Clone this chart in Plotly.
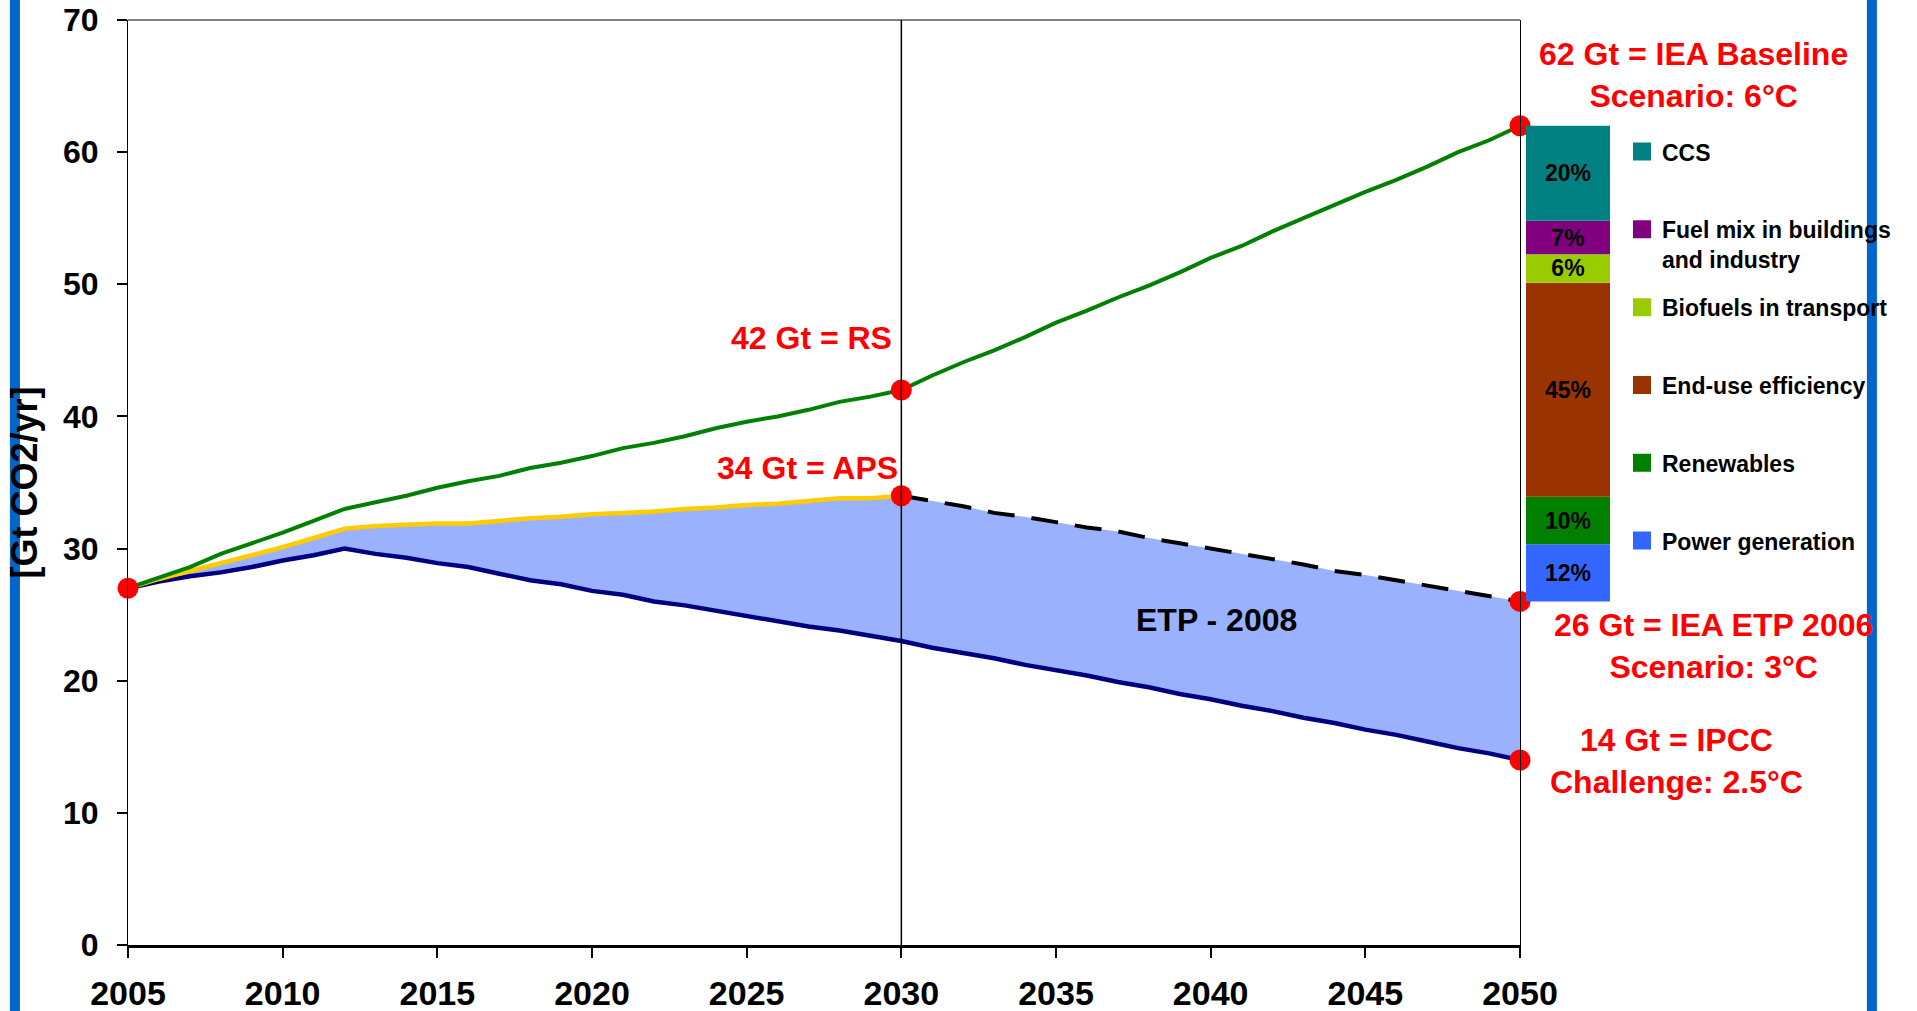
import plotly.graph_objects as go

# ---------------------------------------------------------------- data
YEARS = list(range(2005, 2051))

# IEA Baseline scenario (Gt CO2/yr)
BASELINE = [27.0, 27.8, 28.6, 29.6, 30.4, 31.2, 32.1, 33.0, 33.5, 34.0,
            34.6, 35.1, 35.5, 36.1, 36.5, 37.0, 37.6, 38.0, 38.5, 39.1,
            39.6, 40.0, 40.5, 41.1, 41.5, 42.0, 43.1, 44.1, 45.0, 46.0,
            47.1, 48.0, 49.0, 49.9, 50.9, 52.0, 52.9, 54.0, 55.0, 56.0,
            57.0, 57.9, 58.9, 60.0, 60.9, 62.0]

# Alternative Policy Scenario, 2005-2030
APS_YEARS = list(range(2005, 2031))
APS = [27.0, 27.7, 28.3, 28.9, 29.5, 30.1, 30.8, 31.5, 31.7, 31.8,
       31.9, 31.9, 32.1, 32.3, 32.4, 32.6, 32.7, 32.8, 33.0, 33.1,
       33.3, 33.4, 33.6, 33.8, 33.8, 34.0]

# IEA ETP 2006 pathway, 2030-2050
ETP_YEARS = list(range(2030, 2051))
ETP = [34.0, 33.6, 33.2, 32.7, 32.4, 32.0, 31.6, 31.3, 30.8, 30.4,
       30.0, 29.6, 29.2, 28.8, 28.3, 28.0, 27.6, 27.2, 26.8, 26.4, 26.0]

# IPCC 2.5°C challenge pathway
IPCC = [27.0, 27.5, 27.9, 28.2, 28.6, 29.1, 29.5, 30.0, 29.6, 29.3,
        28.9, 28.6, 28.1, 27.6, 27.3, 26.8, 26.5, 26.0, 25.7, 25.3,
        24.9, 24.5, 24.1, 23.8, 23.4, 23.0, 22.5, 22.1, 21.7, 21.2,
        20.8, 20.4, 19.9, 19.5, 19.0, 18.6, 18.1, 17.7, 17.2, 16.8,
        16.3, 15.9, 15.4, 14.9, 14.5, 14.0]

MILESTONE_YEAR = 2030

# Abatement wedges in 2050 (share of Baseline - ETP gap), bottom to top
WEDGE_NAMES = ["Power generation", "Renewables", "End-use efficiency",
               "Biofuels in transport", "Fuel mix in buildings<br>and industry",
               "CCS"]
WEDGE_SHARES = [12, 10, 45, 6, 7, 20]

# ---------------------------------------------------------------- styling
FONT = "Liberation Sans, Arial, sans-serif"
RED = "#FF0000"
WEDGE_COLORS = {
    "Power generation": "#3366FF",
    "Renewables": "#008000",
    "End-use efficiency": "#993300",
    "Biofuels in transport": "#99CC00",
    "Fuel mix in buildings<br>and industry": "#800080",
    "CCS": "#008080",
}

fig = go.Figure()

# light-blue ETP-2008 band between IPCC path and the APS/ETP envelope
envelope = APS + ETP[1:]
fig.add_trace(go.Scatter(x=YEARS, y=IPCC, mode="lines", line=dict(width=0),
                         showlegend=False, hoverinfo="skip"))
fig.add_trace(go.Scatter(x=YEARS, y=envelope, mode="lines", line=dict(width=0),
                         fill="tonexty", fillcolor="#9AB2FD",
                         showlegend=False, hoverinfo="skip"))

# scenario lines
fig.add_trace(go.Scatter(x=YEARS, y=IPCC, mode="lines",
                         line=dict(color="#000080", width=4.5), showlegend=False))
fig.add_trace(go.Scatter(x=APS_YEARS, y=APS, mode="lines",
                         line=dict(color="#FFCC00", width=4.5), showlegend=False))
fig.add_trace(go.Scatter(x=ETP_YEARS, y=ETP, mode="lines",
                         line=dict(color="black", width=4, dash="27px,17px"),
                         showlegend=False))
fig.add_trace(go.Scatter(x=YEARS, y=BASELINE, mode="lines",
                         line=dict(color="#008000", width=4), showlegend=False))

# key points
base_2030 = BASELINE[YEARS.index(MILESTONE_YEAR)]
pts_x = [YEARS[0], MILESTONE_YEAR, MILESTONE_YEAR, YEARS[-1], ETP_YEARS[-1], YEARS[-1]]
pts_y = [BASELINE[0], base_2030, APS[-1], BASELINE[-1], ETP[-1], IPCC[-1]]
fig.add_trace(go.Scatter(x=pts_x, y=pts_y, mode="markers", cliponaxis=False,
                         marker=dict(color=RED, size=21), showlegend=False))

# stacked wedge bar at 2050 (from ETP level up to Baseline level)
gap = BASELINE[-1] - ETP[-1]
bottom = ETP[-1]
for name, share in zip(WEDGE_NAMES, WEDGE_SHARES):
    h = gap * share / 100.0
    fig.add_trace(go.Bar(
        x=[0], y=[h], base=[bottom], width=1, xaxis="x2", yaxis="y",
        marker=dict(color=WEDGE_COLORS[name], line=dict(width=0)),
        text=[f"{share}%"], textposition="inside", insidetextanchor="middle",
        constraintext="none", textangle=0,
        textfont=dict(family=FONT, size=23, color="black", weight="bold"),
        legendgroup=name, showlegend=False, hoverinfo="skip"))
    bottom += h

# legend entries (top to bottom: CCS ... Power generation)
for rank, name in enumerate(reversed(WEDGE_NAMES), start=1):
    label = name if "<br>" in name else name + "<br> "
    c = WEDGE_COLORS[name]
    fig.add_trace(go.Scatter(
        x=[None], y=[None], mode="markers", name=label, legendgroup=name,
        legendrank=rank,
        marker=dict(symbol="square", size=16, color=c, line=dict(color=c, width=2))))

# ---------------------------------------------------------------- annotations
red_font = dict(family=FONT, size=32, color=RED, weight="bold")


def red_label(x, y, text, anchor="center", ref="x"):
    fig.add_annotation(x=x, y=y, xref=ref, yref="y" if ref == "x" else "paper",
                       text=text, showarrow=False, xanchor=anchor,
                       yanchor="middle", align="center", font=red_font)


red_label(2029.75, 45.9, f"{base_2030:.0f} Gt = RS", anchor="right")
red_label(2029.95, 36.1, f"{APS[-1]:.0f} Gt = APS", anchor="right")
red_label(0.8753, 0.9405, f"{BASELINE[-1]:.0f} Gt = IEA Baseline<br>Scenario: 6°C",
          ref="paper")
red_label(0.8865, 0.3232, f"{ETP[-1]:.0f} Gt = IEA ETP 2006<br>Scenario: 3°C",
          ref="paper")
red_label(0.8653, 0.1990, f"{IPCC[-1]:.0f} Gt = IPCC<br>Challenge: 2.5°C",
          ref="paper")

fig.add_annotation(x=2040.2, y=24.6, xref="x", yref="y", text="ETP - 2008",
                   showarrow=False,
                   font=dict(family=FONT, size=32, color="black", weight="bold"))

# ---------------------------------------------------------------- frame
shapes = [
    # 2030 milestone line
    dict(type="line", xref="x", yref="y", x0=MILESTONE_YEAR, x1=MILESTONE_YEAR,
         y0=0, y1=70, line=dict(color="black", width=1.5), layer="above"),
    # top border
    dict(type="line", xref="x domain", yref="y domain", x0=0, x1=1, y0=1, y1=1,
         line=dict(color="black", width=1)),
    # blue side rules
    dict(type="rect", xref="paper", yref="paper", x0=-0.0660, x1=-0.0604,
         y0=-0.08, y1=1.03, fillcolor="#0066CC", line=dict(width=0), layer="below"),
    dict(type="rect", xref="paper", yref="paper", x0=0.9720, x1=0.9776,
         y0=-0.08, y1=1.03, fillcolor="#0066CC", line=dict(width=0), layer="below"),
]

fig.update_layout(
    width=1917, height=1011,
    margin=dict(l=128, r=0, t=20, b=66, autoexpand=False),
    paper_bgcolor="white", plot_bgcolor="rgba(0,0,0,0)",
    barmode="overlay",
    showlegend=True,
    legend=dict(x=0.8351, y=0.881, xanchor="left", yanchor="top",
                font=dict(family=FONT, size=23, color="black", weight="bold"),
                bgcolor="rgba(0,0,0,0)", tracegroupgap=15, valign="top",
                traceorder="grouped", itemclick=False),
    xaxis=dict(domain=[0, 0.7781], range=[2005, 2050], anchor="y",
               tickvals=list(range(2005, 2051, 5)), ticks="outside", ticklen=10,
               tickwidth=1.5, tickcolor="black", showline=True, linewidth=2.5,
               linecolor="black", showgrid=False, zeroline=False,
               tickfont=dict(family=FONT, size=34, color="black", weight="bold"),
               ticklabelstandoff=6),
    xaxis2=dict(domain=[0.7814, 0.8284], range=[-0.5, 0.5], anchor="y",
                visible=False, showgrid=False, zeroline=False),
    yaxis=dict(range=[0, 70], dtick=10, ticks="outside", ticklen=10,
               tickwidth=1.5, tickcolor="black", showline=True, linewidth=1,
               linecolor="black", mirror=True, showgrid=False, zeroline=False,
               tickfont=dict(family=FONT, size=32, color="black", weight="bold"),
               ticklabelstandoff=12,
               title=dict(text="[Gt CO2/yr]", standoff=14,
                          font=dict(family=FONT, size=36, color="black",
                                    weight="bold"))),
    shapes=shapes,
)

fig.write_html("out.html")
